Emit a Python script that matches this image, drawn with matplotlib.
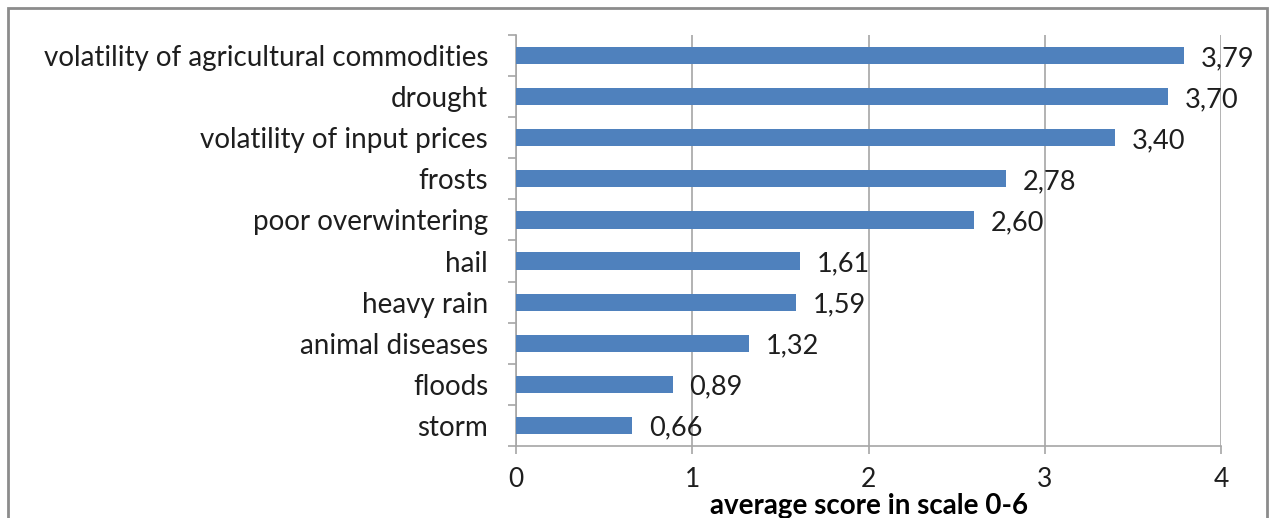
import matplotlib
matplotlib.use("Agg")
import matplotlib.pyplot as plt
from matplotlib.patches import Rectangle

categories = [
    "volatility of agricultural commodities",
    "drought",
    "volatility of input prices",
    "frosts",
    "poor overwintering",
    "hail",
    "heavy rain",
    "animal diseases",
    "floods",
    "storm",
]
scores = [3.79, 3.70, 3.40, 2.78, 2.60, 1.61, 1.59, 1.32, 0.89, 0.66]
x_ticks = [0, 1, 2, 3, 4]
x_label = "average score in scale 0-6"

W, H = 1269, 518
fig = plt.figure(figsize=(W / 100, H / 100), dpi=100)
plt.rcParams["font.family"] = ["Lato", "DejaVu Sans"]

left, right, top, bottom = 516, 1221, 35, 446
ax = fig.add_axes([left / W, 1 - bottom / H, (right - left) / W, (bottom - top) / H])

n = len(categories)
ypos = list(range(n))
ax.barh(ypos, scores, height=0.42, color="#4F81BD", zorder=3)
ax.set_ylim(n - 0.5, -0.5)
ax.set_xlim(0, 4)

grid_c = "#A6A6A6"
text_c = "#1E1E1E"
ax.set_xticks(x_ticks)
ax.set_xticklabels([str(t) for t in x_ticks], fontsize=19, color=text_c)
ax.xaxis.grid(True, color=grid_c, linewidth=1.2, zorder=0)
ax.tick_params(axis="x", length=6, width=1.2, color=grid_c, pad=9)

# category separators as outward ticks on the y axis
ax.set_yticks([i - 0.5 for i in range(n + 1)])
ax.set_yticklabels([])
ax.set_yticks(ypos, minor=True)
ax.set_yticklabels(categories, minor=True, fontsize=20, color=text_c)
ax.tick_params(axis="y", which="major", length=6, width=1.2, color=grid_c)
ax.tick_params(axis="y", which="minor", length=0, pad=20)

for s in ("top", "right"):
    ax.spines[s].set_visible(False)
for s in ("left", "bottom"):
    ax.spines[s].set_color(grid_c)
    ax.spines[s].set_linewidth(1.2)

for y, v in zip(ypos, scores):
    ax.annotate(f"{v:.2f}".replace(".", ","), (v, y), xytext=(12, -2),
                textcoords="offset points", ha="left", va="center",
                fontsize=19.5, color=text_c, zorder=4)

ax.set_xlabel(x_label, fontsize=20, fontweight="bold", color="#000000", labelpad=1)

# outer frame of the chart area
fig.patches.append(Rectangle((8 / W, -0.05), (1267 - 8) / W, 1 - 8 / H + 0.05,
                             transform=fig.transFigure, fill=False,
                             edgecolor="#8C8C8C", linewidth=2))

fig.savefig("out.png", dpi=100, facecolor="white")
